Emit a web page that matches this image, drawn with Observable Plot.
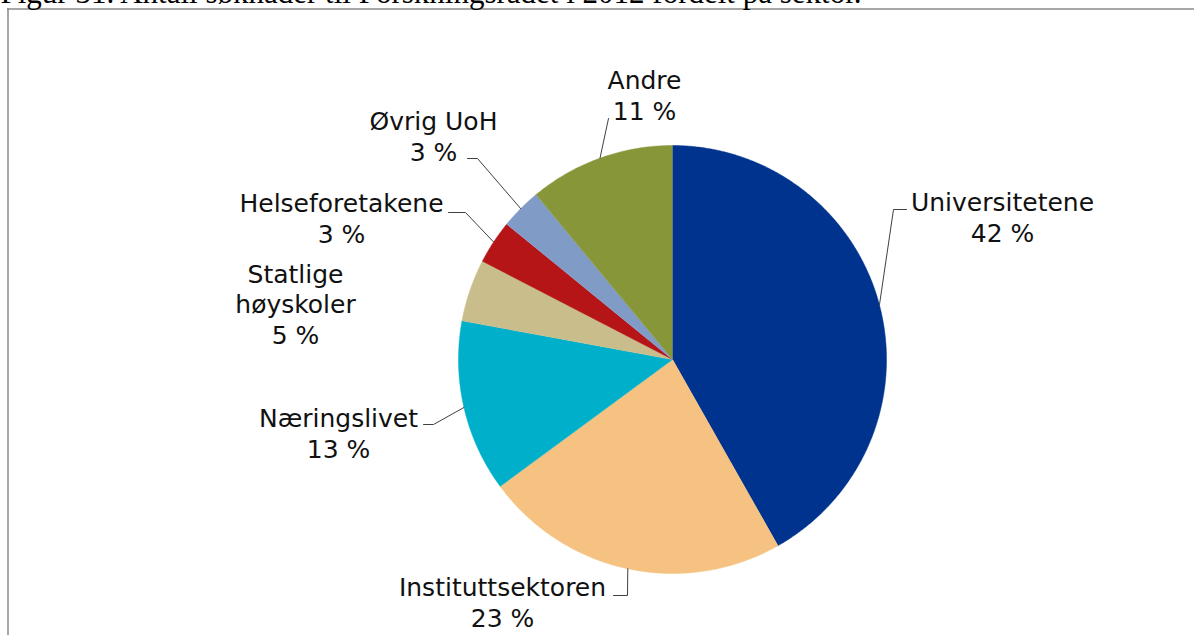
<!DOCTYPE html>
<html><head><meta charset="utf-8">
<script src="https://cdn.jsdelivr.net/npm/d3@7"></script>
<script src="https://cdn.jsdelivr.net/npm/@observablehq/plot@0.6"></script>
<style>html,body{margin:0;padding:0;background:#fff;overflow:hidden}</style>
</head><body><div id="chart"></div>
<script>
// ---- data ----
const sectors = ["Universitetene", "Instituttsektoren", "Næringslivet", "Statlige høyskoler", "Helseforetakene", "Øvrig UoH", "Andre"];
const sectorLabels = ["Universitetene", "Instituttsektoren", "Næringslivet", "Statlige\nhøyskoler", "Helseforetakene", "Øvrig UoH", "Andre"];
const shares = [41.8, 23.1, 13.0, 4.7, 3.3, 3.1, 11.0];
const colors = ["#00338d", "#f5c281", "#00b0ca", "#c8bd8b", "#b51516", "#7f9bc6", "#88963a"];
const titleText = "Figur 31. Antall søknader til Forskningsrådet i 2012 fordelt på sektor.";

// ---- layout ----
const W = 1194, H = 635, cx = 672, cy = 359, R = 214;
// label block centre and leader elbow points (pixels)
const labelLayout = [
  {x: 1002, y: 216, elbow: [[893, 209], [906, 209]]},
  {x: 502, y: 601, elbow: [[627, 595], [613, 595]]},
  {x: 338, y: 432, elbow: [[433, 424], [423, 424]]},
  {x: 295, y: 303, elbow: null},
  {x: 341, y: 217, elbow: [[465, 212], [448, 212]]},
  {x: 433, y: 135, elbow: [[477, 158], [467, 158]]},
  {x: 644, y: 94, elbow: [[608, 118]]}
];

const arcs = d3.pie().sort(null).startAngle(0).endAngle(2 * Math.PI)(shares);
const pt = (a, r) => [cx + r * Math.sin(a), cy - r * Math.cos(a)];

const piePts = [];
arcs.forEach((a, i) => {
  piePts.push({sector: sectors[i], x: cx, y: cy});
  const n = Math.max(2, Math.ceil((a.endAngle - a.startAngle) / (Math.PI / 360)));
  for (let k = 0; k <= n; k++) {
    const ang = a.startAngle + (a.endAngle - a.startAngle) * k / n;
    const [x, y] = pt(ang, R);
    piePts.push({sector: sectors[i], x, y});
  }
});

const leaderPts = [];
const labels = [];
arcs.forEach((a, i) => {
  const L = labelLayout[i];
  labels.push({x: L.x, y: L.y, text: sectorLabels[i] + "\n" + Math.round(shares[i]) + " %"});
  if (L.elbow) {
    const mid = (a.startAngle + a.endAngle) / 2;
    const [x0, y0] = pt(mid, R);
    leaderPts.push({sector: sectors[i], x: x0, y: y0});
    L.elbow.forEach(([x, y]) => leaderPts.push({sector: sectors[i], x, y}));
  }
});

const chart = Plot.plot({
  width: W, height: H, margin: 0,
  x: {domain: [0, W], range: [0, W], axis: null},
  y: {domain: [0, H], range: [0, H], axis: null},
  color: {domain: sectors, range: colors},
  style: {background: "white", overflow: "hidden"},
  marks: [
    Plot.ruleY([8.5], {x1: 7, x2: W, stroke: "#8a8a8a", strokeWidth: 1.5}),
    Plot.ruleX([7.5], {y1: 8, y2: H, stroke: "#8a8a8a", strokeWidth: 1.5}),
    Plot.line(piePts, {x: "x", y: "y", z: "sector", fill: "sector", stroke: "sector", strokeWidth: 0.5}),
    Plot.line(leaderPts, {x: "x", y: "y", z: "sector", stroke: "#404040", strokeWidth: 1}),
    Plot.text(labels, {x: "x", y: "y", text: "text", fontSize: 25, fontFamily: "DejaVu Sans", lineHeight: 1.22, fill: "#111", textAnchor: "middle"}),
    Plot.text([titleText], {x: 0, y: 2, text: d => d, textAnchor: "start", lineAnchor: "bottom", fontSize: 31, fontFamily: "Liberation Serif", fill: "#000"})
  ]
});
document.getElementById("chart").appendChild(chart);
</script>
</body></html>
